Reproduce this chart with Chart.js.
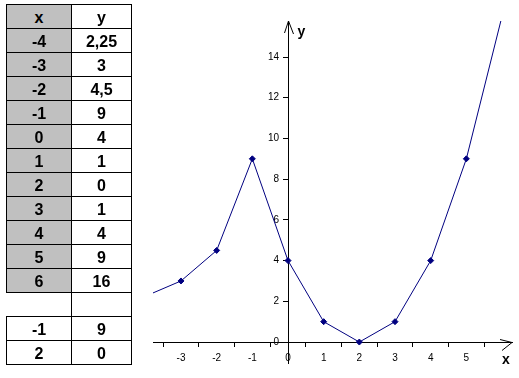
<!DOCTYPE html>
<html>
<head>
<meta charset="utf-8">
<script src="https://cdn.jsdelivr.net/npm/chart.js@4/dist/chart.umd.min.js"></script>
<style>
  html, body { margin: 0; padding: 0; background: #fff; }
  #wrap { position: relative; width: 519px; height: 378px; overflow: hidden; }
  #c { position: absolute; left: 0; top: 0; }
  #tbl { position: absolute; left: 0; top: 0; z-index: 2; }
  .cell { position: absolute; box-sizing: border-box; border: 1px solid #000;
          display: flex; align-items: flex-end; justify-content: center;
          font: bold 16px "Liberation Sans", Arial, sans-serif; color: #000; line-height: 18px; padding-bottom: 1px; }
</style>
</head>
<body>
<div id="wrap">
  <canvas id="c" width="519" height="378"></canvas>
  <div id="tbl"></div>
</div>
<script>
// ---- data ----
const xValues = [-4, -3, -2, -1, 0, 1, 2, 3, 4, 5, 6];
const yValues = [2.25, 3, 4.5, 9, 4, 1, 0, 1, 4, 9, 16];
const extraX = [-1, 2];
const extraY = [9, 0];
const headers = ['x', 'y'];
const xTickLabels = [-3, -2, -1, 0, 1, 2, 3, 4, 5];
const yTickValues = [0, 2, 4, 6, 8, 10, 12, 14];

// ---- table ----
const fmt = v => String(v).replace('.', ',');
const tbl = document.getElementById('tbl');
const colX = [6, 71], colW = [65, 60], top0 = 4, rowH = 24;
function cell(col, row, text, opts) {
  opts = opts || {};
  const d = document.createElement('div');
  d.className = 'cell';
  d.style.left = colX[col] + 'px';
  d.style.top = (top0 + row * rowH) + 'px';
  d.style.width = (colW[col] + 1) + 'px';
  d.style.height = (rowH + 1) + 'px';
  if (opts.bg) d.style.background = opts.bg;
  d.textContent = text;
  tbl.appendChild(d);
}
let r = 0;
cell(0, r, headers[0], {bg: '#c0c0c0'}); cell(1, r, headers[1], {bg: '#fff'}); r++;
for (let i = 0; i < xValues.length; i++, r++) {
  cell(0, r, fmt(xValues[i]), {bg: '#c0c0c0'});
  cell(1, r, fmt(yValues[i]), {bg: '#fff'});
}
cell(1, r, '', {bg: '#fff'}); r++;
for (let i = 0; i < extraX.length; i++, r++) {
  cell(0, r, fmt(extraX[i]), {bg: '#fff'});
  cell(1, r, fmt(extraY[i]), {bg: '#fff'});
}

// ---- chart ----
const points = xValues.map((x, i) => ({x: x, y: yValues[i]}));
const xTickAll = [];
xTickLabels.forEach(v => { xTickAll.push(v - 0.5); xTickAll.push(v); });
xTickAll.push(xTickLabels[xTickLabels.length - 1] + 0.5);

const Y_TICK_LEN = 5, Y_TICK_PAD = 4;

// put the y-axis labels to the left of the axis (crossing axis at x = 0)
const shiftYLabels = {
  id: 'shiftYLabels',
  beforeDraw(chart) {
    const s = chart.scales.y;
    const items = s.getLabelItems(chart.chartArea);
    if (items && !items._shifted) {
      const xPix = chart.scales.x.getPixelForValue(0);
      items.forEach(it => {
        it.options.translation[0] = xPix - Y_TICK_LEN - Y_TICK_PAD;
        it.options.textAlign = 'right';
      });
      items._shifted = true;
    }
  }
};

const arrows = {
  id: 'arrows',
  afterDraw(chart) {
    const ctx = chart.ctx, a = chart.chartArea;
    const x0 = Math.round(chart.scales.x.getPixelForValue(0)) + 0.5;
    const y0 = Math.round(chart.scales.y.getPixelForValue(0)) + 0.5;
    ctx.save();
    ctx.strokeStyle = '#000';
    ctx.lineWidth = 1;
    ctx.beginPath();
    ctx.moveTo(x0 - 4, a.top + 12); ctx.lineTo(x0, a.top); ctx.lineTo(x0 + 5, a.top + 13);
    ctx.moveTo(a.right - 12, y0 - 3); ctx.lineTo(a.right, y0); ctx.lineTo(a.right - 10, y0 + 8);
    ctx.stroke();
    ctx.fillStyle = '#000';
    ctx.font = 'bold 14px "Liberation Sans", Arial, sans-serif';
    ctx.textAlign = 'left';
    ctx.textBaseline = 'alphabetic';
    ctx.fillText('y', x0 + 9, a.top + 15);
    ctx.textAlign = 'center';
    ctx.fillText('x', a.right - 6, y0 + 21);
    ctx.restore();
  }
};

new Chart(document.getElementById('c'), {
  type: 'scatter',
  data: {
    datasets: [{
      data: points,
      showLine: true,
      borderColor: '#000080',
      borderWidth: 1,
      backgroundColor: '#000080',
      pointStyle: 'rectRot',
      pointRadius: 3,
      pointBorderWidth: 1,
      pointBorderColor: '#000080',
      pointBackgroundColor: '#000080',
      tension: 0
    }]
  },
  options: {
    responsive: false,
    animation: false,
    events: [],
    layout: { padding: { left: 153, top: 21, right: 7, bottom: 15 } },
    plugins: { legend: { display: false }, tooltip: { enabled: false } },
    scales: {
      x: {
        type: 'linear',
        position: { y: 0 },
        min: -3.785,
        max: 6.28,
        afterBuildTicks: s => { s.ticks = xTickAll.map(v => ({value: v})); },
        grid: {
          drawOnChartArea: false,
          drawTicks: true,
          tickLength: 4,
          tickColor: c => (c.tick && Number.isInteger(c.tick.value)) ? 'rgba(0,0,0,0)' : '#000'
        },
        border: { display: true, color: '#000', width: 1 },
        ticks: {
          autoSkip: false,
          maxRotation: 0,
          padding: 6,
          color: '#000',
          font: { family: '"Liberation Sans", Arial, sans-serif', size: 10 },
          callback: v => Number.isInteger(v) ? String(v) : ''
        }
      },
      y: {
        type: 'linear',
        position: { x: 0 },
        min: -1.03,
        max: 15.77,
        afterBuildTicks: s => { s.ticks = yTickValues.map(v => ({value: v})); },
        grid: { drawOnChartArea: false, drawTicks: true, tickLength: Y_TICK_LEN, tickColor: '#000' },
        border: { display: true, color: '#000', width: 1 },
        ticks: {
          autoSkip: false,
          padding: Y_TICK_PAD,
          color: '#000',
          font: { family: '"Liberation Sans", Arial, sans-serif', size: 10 },
          callback: v => String(v)
        }
      }
    }
  },
  plugins: [shiftYLabels, arrows]
});
</script>
</body>
</html>
